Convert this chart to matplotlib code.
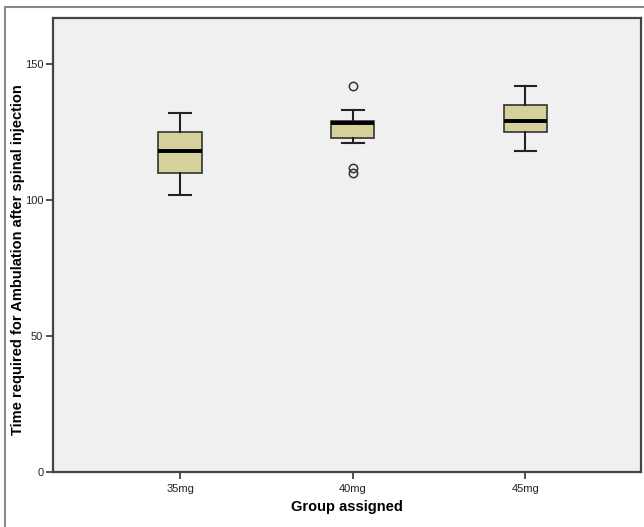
import matplotlib
matplotlib.use("Agg")
import matplotlib.pyplot as plt
from matplotlib.lines import Line2D

# Box statistics
groups = ["35mg", "40mg", "45mg"]
whislo = [102, 121, 118]
q1 = [110, 123, 125]
med = [118, 128.4, 129]
q3 = [125, 129, 135]
whishi = [132, 133, 142]
fliers = [[], [142, 112, 110], []]

plt.rcParams["font.family"] = ["Liberation Sans", "DejaVu Sans"]

fig = plt.figure(figsize=(6.44, 5.27), dpi=100)
ax = fig.add_axes([0.0823, 0.1044, 0.9126, 0.8614])
ax.set_facecolor("#f0f0f0")

stats = []
for i, g in enumerate(groups):
    stats.append(dict(label=g, whislo=whislo[i], q1=q1[i], med=med[i],
                      q3=q3[i], whishi=whishi[i], fliers=fliers[i]))

ax.bxp(stats, positions=[1, 2, 3], widths=0.25, patch_artist=True,
       boxprops=dict(facecolor="#d6d19c", edgecolor="#333333", linewidth=1.2),
       medianprops=dict(color="black", linewidth=2.8),
       whiskerprops=dict(color="#222222", linewidth=1.5),
       capprops=dict(color="#222222", linewidth=1.5),
       capwidths=0.125,
       flierprops=dict(marker="o", markersize=6, markerfacecolor="none",
                       markeredgecolor="#333333", markeredgewidth=1.1))

ax.set_xlim(0.264, 3.668)
ax.set_ylim(0, 167)
ax.set_yticks([0, 50, 100, 150])
ax.tick_params(axis="both", labelsize=8, length=5, width=1.2, color="#333333",
               labelcolor="#222222", pad=2)
ax.tick_params(axis="x", pad=4)
for s in ax.spines.values():
    s.set_color("#444444")
    s.set_linewidth(1.6)

ax.set_ylabel("Time required for Ambulation after spinal injection",
              fontsize=10.5, fontweight="bold")
ax.yaxis.set_label_coords(-0.048, 0.467)
ax.set_xlabel("Group assigned", fontsize=10.5, fontweight="bold", labelpad=4)

# outer frame (left and top border)
fx = 5 / 644
fy = 1 - 7 / 527
fig.add_artist(Line2D([fx, fx], [0, fy], transform=fig.transFigure,
                      color="#888888", linewidth=1.5))
fig.add_artist(Line2D([fx, 1], [fy, fy], transform=fig.transFigure,
                      color="#888888", linewidth=1.5))

fig.savefig("out.png", dpi=100)
plt.close(fig)
